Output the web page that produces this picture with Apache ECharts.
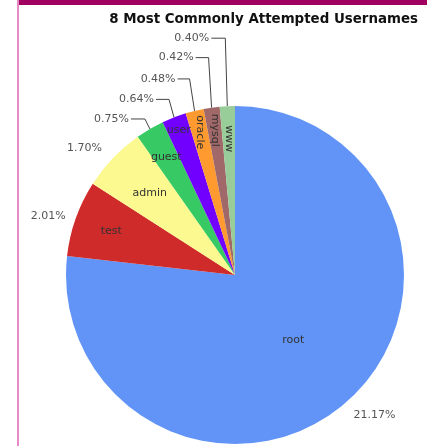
<!DOCTYPE html>
<html>
<head>
<meta charset="utf-8">
<style>
  html, body { margin: 0; padding: 0; background: #ffffff; }
  #chart { width: 427px; height: 446px; }
</style>
<script src="https://cdn.jsdelivr.net/npm/echarts@6/dist/echarts.min.js"></script>
</head>
<body>
<div id="chart"></div>
<script>
// ---- data ----
const titleText = '8 Most Commonly Attempted Usernames';
const names = ['root', 'test', 'admin', 'guest', 'user', 'oracle', 'mysql', 'www'];
const values = [21.17, 2.01, 1.70, 0.75, 0.64, 0.48, 0.42, 0.40];

// ---- style / layout ----
const colors = ['#6194f6', '#cf2b2b', '#fbf98f', '#36c964', '#7200ff', '#ff9a30', '#a06868', '#98cc98'];
const CX = 235, CY = 275, R = 169;
const innerRadiusFactor = [1.0, 1.5, 1.35, 1.56, 1.78, 1.68, 1.67, 1.56];
const innerRotate = [0, 0, 0, 0, 0, -90, -90, -90];
// offsets of percentage label anchor from slice edge point [dx, dy]
const outerOffset = [[6, 14], [-10, -2], [-11, -10], [-21, -10], [-20, -18], [-19, -32], [-18, -50], [-18, -68]];
const elbowDx = [null, null, null, -5, -5, -5, -3, -2];

const chart = echarts.init(document.getElementById('chart'), null, { renderer: 'canvas' });

const innerData = names.map((n, i) => ({
  name: n, value: values[i],
  itemStyle: { color: colors[i] },
  label: { rotate: innerRotate[i] }
}));
const outerData = names.map((n, i) => ({
  name: n, value: values[i],
  labelLine: { show: elbowDx[i] !== null }
}));

chart.setOption({
  backgroundColor: '#ffffff',
  animation: false,
  title: {
    text: titleText,
    right: 9, top: 13, padding: 0,
    textStyle: { fontFamily: 'DejaVu Sans', fontWeight: 'bold', fontSize: 13.4, color: '#111' }
  },
  graphic: [
    { type: 'rect', left: 17, top: 0, shape: { width: 410, height: 5 }, style: { fill: '#a0005e' } },
    { type: 'rect', left: 17, top: 0, shape: { width: 2, height: 446 }, style: { fill: '#e68ac8' } }
  ],
  series: [
    {
      type: 'pie',
      center: [CX, CY], radius: [0, R],
      startAngle: 90, clockwise: true,
      avoidLabelOverlap: false,
      silent: true,
      data: innerData,
      label: {
        show: true, position: 'inside', formatter: '{b}',
        fontFamily: 'DejaVu Sans', fontSize: 11, color: '#333'
      },
      labelLine: { show: false },
      labelLayout: function (p) {
        const r = p.labelRect;
        const mx = r.x + r.width / 2, my = r.y + r.height / 2;
        const f = innerRadiusFactor[p.dataIndex];
        return { x: CX + (mx - CX) * f, y: CY + (my - CY) * f };
      }
    },
    {
      type: 'pie',
      center: [CX, CY], radius: [0, R],
      startAngle: 90, clockwise: true,
      avoidLabelOverlap: false,
      silent: true,
      itemStyle: { color: 'rgba(0,0,0,0)' },
      data: outerData,
      label: {
        show: true, position: 'outside',
        formatter: p => p.value.toFixed(2) + '%',
        fontFamily: 'DejaVu Sans', fontSize: 11, color: '#555'
      },
      labelLine: { show: true, lineStyle: { color: '#444', width: 1 } },
      labelLayout: function (p) {
        const i = p.dataIndex;
        const e = p.labelLinePoints ? p.labelLinePoints[0] : [CX, CY];
        const o = outerOffset[i];
        const x = e[0] + o[0], y = e[1] + o[1];
        const res = { x: x, y: y, align: o[0] < 0 ? 'right' : 'left', verticalAlign: 'middle' };
        if (elbowDx[i] !== null) {
          res.labelLinePoints = [[e[0], e[1]], [e[0] + elbowDx[i], y], [x + 2, y]];
        }
        return res;
      }
    }
  ]
});
</script>
</body>
</html>
